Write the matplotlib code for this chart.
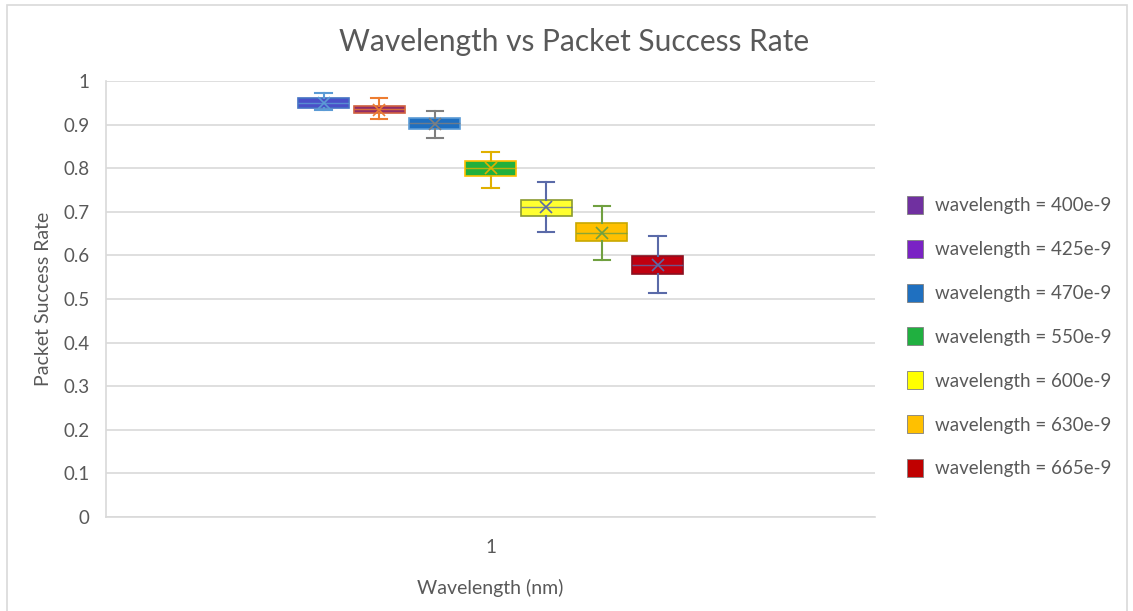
import matplotlib.pyplot as plt
from matplotlib.patches import Patch, Rectangle

# box statistics (packet success rate)
labels = ['wavelength = 400e-9', 'wavelength = 425e-9', 'wavelength = 470e-9',
          'wavelength = 550e-9', 'wavelength = 600e-9', 'wavelength = 630e-9',
          'wavelength = 665e-9']
whis_lo = [0.934, 0.914, 0.870, 0.755, 0.654, 0.589, 0.513]
q1 = [0.937, 0.926, 0.889, 0.782, 0.691, 0.634, 0.557]
med = [0.949, 0.935, 0.903, 0.800, 0.712, 0.652, 0.578]
q3 = [0.960, 0.943, 0.916, 0.817, 0.727, 0.674, 0.599]
whis_hi = [0.972, 0.960, 0.931, 0.838, 0.768, 0.713, 0.645]
means = [0.950, 0.934, 0.902, 0.800, 0.711, 0.652, 0.578]

box_fill = ['#4a50c8', '#902c66', '#1f6fc0', '#22b03c', '#ffff30', '#ffc000', '#c00010']
box_edge = ['#4472c4', '#d06040', '#5b9bd5', '#ffc000', '#8a9a30', '#c8a800', '#8a1020']
whisk_col = ['#5b9bd5', '#ed7d31', '#7f7f7f', '#e0b000', '#5a6aa8', '#70a040', '#5a6aa8']
legend_col = ['#7030a0', '#7a22c4', '#1f70c0', '#20b040', '#ffff00', '#ffc000', '#c00000']

grey = '#595959'
plt.rcParams['font.family'] = ['Lato', 'DejaVu Sans']

fig = plt.figure(figsize=(11.33, 6.11), dpi=100)
ax = fig.add_axes([0.0936, 0.1538, 0.6787, 0.7136])

step = 0.0724
pos = [1 + (i - 3) * step for i in range(len(labels))]

for i in range(len(labels)):
    stats = [dict(whislo=whis_lo[i], q1=q1[i], med=med[i], q3=q3[i],
                  whishi=whis_hi[i], mean=means[i], fliers=[])]
    ax.bxp(stats, positions=[pos[i]], widths=0.0663, patch_artist=True,
           showmeans=False, manage_ticks=False,
           boxprops=dict(facecolor=box_fill[i], edgecolor=box_edge[i], linewidth=1.2),
           medianprops=dict(color=whisk_col[i], linewidth=1.0, alpha=0.8),
           whiskerprops=dict(color=whisk_col[i], linewidth=1.5),
           capprops=dict(color=whisk_col[i], linewidth=1.5),
           capwidths=0.021, zorder=3)
    ax.plot(pos[i], means[i], marker='x', color=whisk_col[i], markersize=8,
            markeredgewidth=1.2, zorder=4)

ax.set_xlim(0.5, 1.5)
ax.set_ylim(0, 1)
ax.set_yticks([i / 10 for i in range(11)])
ax.set_yticklabels(['0', '0.1', '0.2', '0.3', '0.4', '0.5', '0.6', '0.7', '0.8', '0.9', '1'])
ax.set_xticks([1])
ax.set_xticklabels(['1'])
ax.tick_params(axis='both', length=0, colors=grey, labelsize=13.5)
ax.tick_params(axis='y', pad=12)
ax.tick_params(axis='x', pad=16)
ax.grid(axis='y', color='#d9d9d9', linewidth=1.2, zorder=0)
ax.set_axisbelow(True)
for side in ['top', 'right']:
    ax.spines[side].set_visible(False)
ax.spines['left'].set_color('#d9d9d9')
ax.spines['bottom'].set_color('#d9d9d9')
ax.spines['left'].set_linewidth(1.2)
ax.spines['bottom'].set_linewidth(1.2)

ax.set_xlabel('Wavelength (nm)', color=grey, fontsize=14, labelpad=16)
ax.set_ylabel('Packet Success Rate', color=grey, fontsize=14, labelpad=8)
fig.text(0.507, 0.931, 'Wavelength vs Packet Success Rate', ha='center', va='center',
         color=grey, fontsize=21.5)

handles = [Patch(facecolor=legend_col[i], edgecolor='#7f7f7f', linewidth=0.6)
           for i in range(len(labels))]
fig.legend(handles, labels, loc='center left', bbox_to_anchor=(0.786, 0.449),
           frameon=False, fontsize=13.5, labelcolor=grey, handlelength=0.85,
           handleheight=1.1, handletextpad=0.6, labelspacing=1.36)

fig.patches.append(Rectangle((7 / 1133, -0.02), 1120 / 1133, 1.02 - 5 / 611,
                             transform=fig.transFigure, fill=False,
                             edgecolor='#d9d9d9', linewidth=1.2))

fig.savefig('out.png', dpi=100)
